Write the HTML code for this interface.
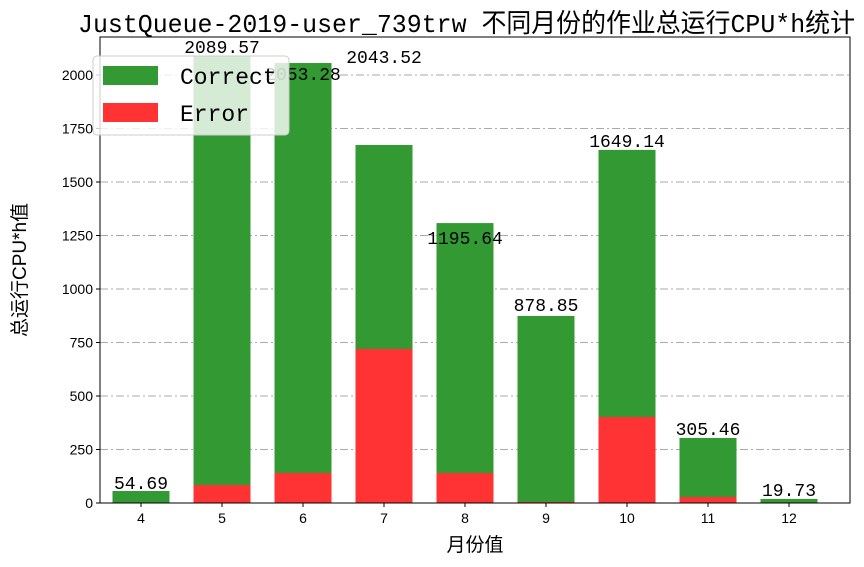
<!DOCTYPE html>
<html><head><meta charset="utf-8"><style>
body{margin:0;background:#fff;}
text{font-family:"Liberation Mono","Noto Sans CJK SC",monospace;}
text.s{font-family:"Liberation Sans","Noto Sans CJK SC",sans-serif;}
</style></head><body>
<svg id="c" width="864" height="562" xmlns="http://www.w3.org/2000/svg"></svg>
<script>
const months=["4","5","6","7","8","9","10","11","12"];
const totalVals=[56,2089.57,2056,1673,1308,874,1650,304,19];
const errorVals=[0,84,140,720,140,5,402,28,0];
const labelTexts=["54.69","2089.57","2053.28","2043.52","1195.64","878.85","1649.14","305.46","19.73"];
const labelVals=[98,2135,2009,2089,1243,930,1696,350,65];
const yTicks=[0,250,500,750,1000,1250,1500,1750,2000];
const NS="http://www.w3.org/2000/svg";
const svg=document.getElementById('c');
const L=100,R=850,T=37,B=503;
const y=v=>B-v*(428/2000);
const x=i=>141+i*81;
const bw=57;
function mk(tag,a,txt){const e=document.createElementNS(NS,tag);for(const k in a)e.setAttribute(k,a[k]);if(txt!==undefined)e.textContent=txt;svg.appendChild(e);return e;}
yTicks.forEach(t=>{
 const g=mk('line',{x1:L,x2:R,y1:y(t),y2:y(t),stroke:'#aaa','stroke-dasharray':'8,3,2,3','stroke-width':1});
 
 
 const tk=mk('line',{x1:L-4,x2:L,y1:y(t),y2:y(t),stroke:'#000'});
 
 
 const tl=mk('text',{x:L-7,y:y(t)+5,'text-anchor':'end','font-size':14,'class':'s'},String(t));
 
 
});
months.forEach((m,i)=>{
 const g=mk('rect',{x:x(i)-bw/2,y:y(totalVals[i]),width:bw,height:y(0)-y(totalVals[i]),fill:'#339933'});
 
 
 const r=mk('rect',{x:x(i)-bw/2,y:y(errorVals[i]),width:bw,height:y(0)-y(errorVals[i]),fill:'#ff3333'});
 
 
 const tk=mk('line',{x1:x(i),x2:x(i),y1:B,y2:B+4,stroke:'#000'});
 
 
 const tl=mk('text',{x:x(i),y:B+20,'text-anchor':'middle','font-size':14,'class':'s'},m);
 
 
 const vl=mk('text',{x:x(i),y:y(labelVals[i])+7,'text-anchor':'middle','font-size':18},labelTexts[i]);
 
 
});
const fr=mk('rect',{x:L,y:T,width:R-L,height:B-T,fill:'none',stroke:'#000','stroke-width':1});


const lg=mk('rect',{x:93,y:56,width:196,height:79,rx:4,fill:'#fff','fill-opacity':0.8,stroke:'#ccc'});


const p1=mk('rect',{x:103,y:66,width:55,height:19,fill:'#339933'});


const t1=mk('text',{x:180,y:84,'font-size':23},'Correct');


const p2=mk('rect',{x:103,y:103,width:55,height:19,fill:'#ff3333'});


const t2=mk('text',{x:180,y:121,'font-size':23},'Error');


const ti=mk('text',{x:78,y:32,'font-size':26,textLength:777,lengthAdjust:'spacingAndGlyphs'},'JustQueue-2019-user_739trw 不同月份的作业总运行CPU*h统计');


const xt=mk('text',{x:475,y:551,'text-anchor':'middle','font-size':19,'class':'s'},'月份值');


const yt=mk('text',{x:0,y:0,'text-anchor':'middle','font-size':19,'class':'s',transform:'translate(26,270) rotate(-90)'},'总运行CPU*h值');


</script>
</body></html>
